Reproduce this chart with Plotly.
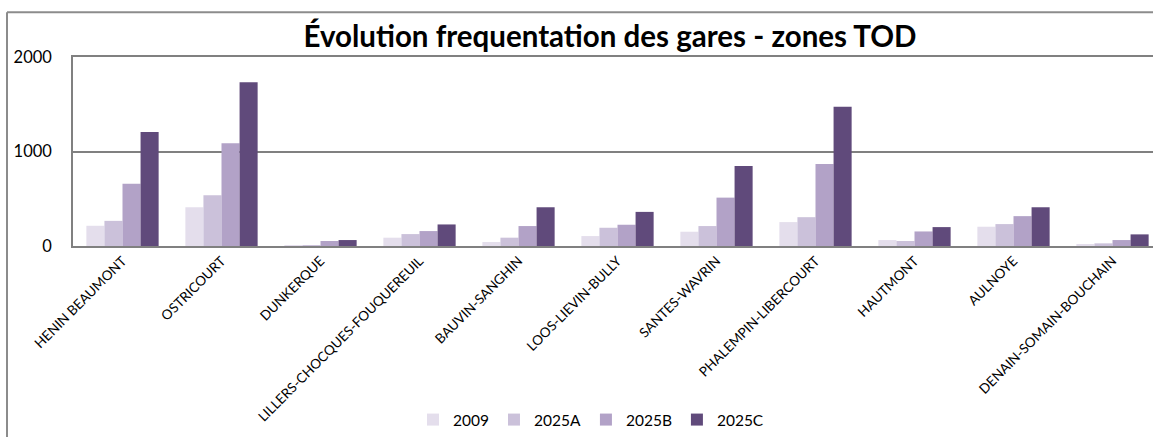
import plotly.graph_objects as go

# Stations (TOD zones) and passenger counts per scenario
gares = [
    "HENIN BEAUMONT", "OSTRICOURT", "DUNKERQUE", "LILLERS-CHOCQUES-FOUQUEREUIL",
    "BAUVIN-SANGHIN", "LOOS-LIEVIN-BULLY", "SANTES-WAVRIN", "PHALEMPIN-LIBERCOURT",
    "HAUTMONT", "AULNOYE", "DENAIN-SOMAIN-BOUCHAIN",
]
v2009 = [214, 410, 3, 88, 42, 105, 151, 253, 63, 204, 21]
v2025A = [266, 537, 10, 126, 88, 193, 211, 305, 53, 232, 28]
v2025B = [660, 1088, 53, 158, 211, 225, 512, 867, 154, 316, 63]
v2025C = [1207, 1734, 63, 228, 410, 361, 846, 1474, 200, 410, 123]

series = [
    ("2009", v2009, "#E4DEEC"),
    ("2025A", v2025A, "#CBC1DA"),
    ("2025B", v2025B, "#B2A2C7"),
    ("2025C", v2025C, "#604A7B"),
]

W, H = 1153, 437
L, T, B = 73, 57, 190          # plot area margins in px
PW, PH = W - L, H - T - B      # plot area size


def px(x):
    return (x - L) / PW


def py(y):
    return (H - B - y) / PH


fig = go.Figure()
for name, vals, col in series:
    fig.add_trace(go.Bar(
        x=gares, y=vals, name=name,
        marker=dict(color=col, line=dict(width=0)),
    ))

GRID = "#808080"
FONT = "Lato"

fig.update_layout(
    width=W, height=H,
    margin=dict(l=L, r=0, t=T, b=B, pad=0),
    paper_bgcolor="white", plot_bgcolor="white",
    barmode="group", bargap=0.27, bargroupgap=0,
    font=dict(family=FONT, color="#000000"),
    title=dict(
        text="<b>Évolution frequentation des gares - zones TOD</b>",
        font=dict(family=FONT, size=29.5, color="#000000"),
        x=px(610), xref="paper", xanchor="center",
        y=1 - 37 / H, yref="container", yanchor="middle",
    ),
    xaxis=dict(
        range=[-0.5, -0.5 + PW / 99.0],
        tickangle=-45, tickfont=dict(size=13.5, family=FONT),
        showline=True, linecolor=GRID, linewidth=1.6, mirror=True,
        showgrid=False, ticks="",
    ),
    yaxis=dict(
        range=[0, 2000], tickvals=[0, 1000, 2000],
        tickfont=dict(size=16.5, family=FONT),
        showgrid=True, gridcolor=GRID, gridwidth=1.6,
        showline=True, linecolor=GRID, linewidth=1.6,
        zeroline=False, ticks="", ticklabelstandoff=16,
    ),
    legend=dict(
        orientation="h", x=px(591), xanchor="center", y=py(422), yanchor="middle",
        font=dict(size=15.5, family=FONT), itemwidth=30, tracegroupgap=0,
    ),
    showlegend=True,
)

# Chart outer border (left and top edges)
fig.add_shape(type="line", xref="paper", yref="paper",
              x0=px(7), x1=px(7), y0=py(12), y1=py(H + 5),
              line=dict(color="#8C8C8C", width=2))
fig.add_shape(type="line", xref="paper", yref="paper",
              x0=px(7), x1=px(W + 5), y0=py(12), y1=py(12),
              line=dict(color="#8C8C8C", width=2))

fig.write_html("out.html")
